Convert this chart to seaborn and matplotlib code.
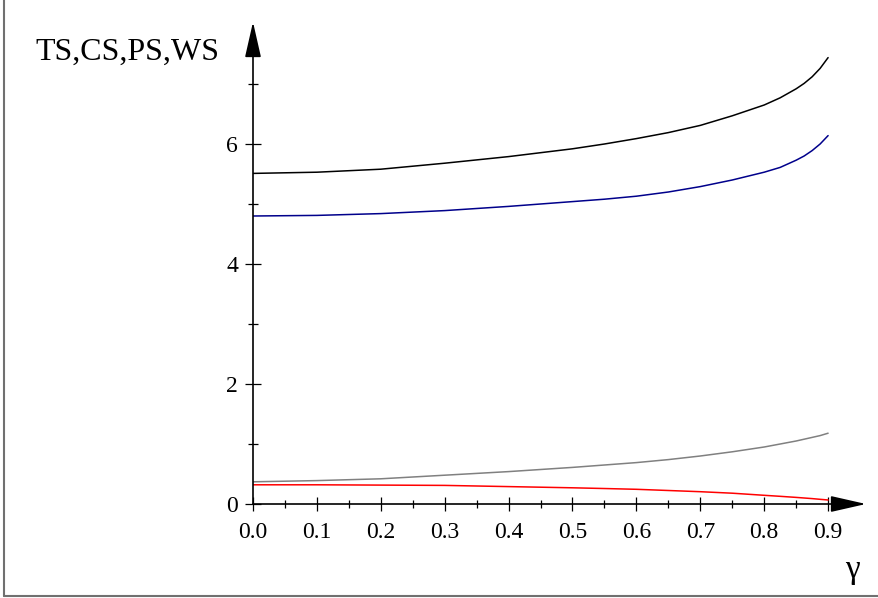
import numpy as np
import pandas as pd
import matplotlib
matplotlib.use("Agg")
import matplotlib.pyplot as plt
import seaborn as sns
from matplotlib.lines import Line2D

# values
gamma = [0.0, 0.1, 0.2, 0.3, 0.4, 0.5, 0.55, 0.6, 0.65, 0.7, 0.75, 0.8, 0.825,
         0.85, 0.8625, 0.875, 0.8875, 0.9]
ts = [5.51, 5.53, 5.58, 5.68, 5.79, 5.92, 6.00, 6.09, 6.19, 6.31, 6.47, 6.65, 6.77,
      6.92, 7.01, 7.12, 7.26, 7.44]
cs = [4.80, 4.81, 4.84, 4.89, 4.96, 5.04, 5.08, 5.13, 5.20, 5.29, 5.40, 5.53, 5.61,
      5.73, 5.80, 5.89, 6.00, 6.14]
ps = [0.37, 0.39, 0.42, 0.48, 0.54, 0.61, 0.65, 0.69, 0.74, 0.80, 0.87, 0.95, 1.00,
      1.05, 1.08, 1.11, 1.14, 1.18]
ws = [0.32, 0.32, 0.315, 0.31, 0.29, 0.27, 0.258, 0.245, 0.225, 0.205, 0.18, 0.145, 0.128,
      0.11, 0.10, 0.09, 0.078, 0.067]

series_names = ["TS", "CS", "PS", "WS"]
series_colors = {"TS": "#000000", "CS": "#00008b", "PS": "#808080", "WS": "#ff0000"}

x_ticks = [0.0, 0.1, 0.2, 0.3, 0.4, 0.5, 0.6, 0.7, 0.8, 0.9]
x_tick_labels = ["0.0", "0.1", "0.2", "0.3", "0.4", "0.5", "0.6", "0.7", "0.8", "0.9"]
y_ticks = [0, 2, 4, 6]
y_minor = [1, 3, 5, 7]

df = pd.DataFrame({"gamma": gamma, "TS": ts, "CS": cs, "PS": ps, "WS": ws})
long_df = df.melt(id_vars="gamma", value_vars=series_names, var_name="series", value_name="value")

sns.set_style("white")
plt.rcParams["font.family"] = ["Liberation Serif", "DejaVu Serif"]
plt.rcParams["text.color"] = "black"
plt.rcParams["xtick.color"] = "black"
plt.rcParams["ytick.color"] = "black"

fig = plt.figure(figsize=(8.79, 5.98), dpi=100)
ax = fig.add_axes([253 / 879, 94 / 598, 613 / 879, 482 / 598])

sns.lineplot(data=long_df, x="gamma", y="value", hue="series", hue_order=series_names,
             palette=series_colors, legend=False, linewidth=1.1, ax=ax)

ax.set_xlim(0, 613 / 639)
ax.set_ylim(0, 482 / 60)
for s in ax.spines.values():
    s.set_visible(False)

# axes with arrow heads
arrow = dict(arrowstyle="-|>,head_length=22,head_width=5", mutation_scale=1,
             color="black", lw=1.2, shrinkA=0, shrinkB=0)
ax.annotate("", xy=(1, 0), xytext=(0, 0), xycoords="axes fraction", arrowprops=arrow,
            annotation_clip=False)
ax.annotate("", xy=(0, 1), xytext=(0, 0), xycoords="axes fraction", arrowprops=arrow,
            annotation_clip=False)

ax.set_xticks(x_ticks)
ax.set_xticklabels(x_tick_labels)
ax.set_xticks(np.array(x_ticks[:-1]) + 0.05, minor=True)
ax.set_yticks(y_ticks)
ax.set_yticks(y_minor, minor=True)

ax.tick_params(axis="x", which="major", direction="inout", length=9.5, width=0.9,
               labelsize=17, labelcolor="black", pad=8, bottom=True)
ax.tick_params(axis="x", which="minor", direction="inout", length=5.8, width=0.9,
               bottom=True)
ax.tick_params(axis="y", which="major", direction="inout", length=11.5, width=0.9,
               labelsize=17, labelcolor="black", pad=5, left=True)
ax.tick_params(axis="y", which="minor", direction="inout", length=6.5, width=0.9,
               left=True)
ax.set_xlabel("")
ax.set_ylabel("")

fig.text(35 / 879, 1 - 52 / 598, "TS,CS,PS,WS", fontsize=23, va="center", ha="left",
         color="black")
fig.text(852 / 879, 1 - 570 / 598, "γ", fontsize=24, va="center", ha="center",
         color="black")

# outer frame edges
fig.add_artist(Line2D([4.5 / 879, 4.5 / 879], [2.5 / 598, 1], color="#707070", lw=1.5,
                      transform=fig.transFigure))
fig.add_artist(Line2D([4.5 / 879, 1], [2.5 / 598, 2.5 / 598], color="#707070", lw=1.5,
                      transform=fig.transFigure))

fig.savefig("out.png", dpi=100)
